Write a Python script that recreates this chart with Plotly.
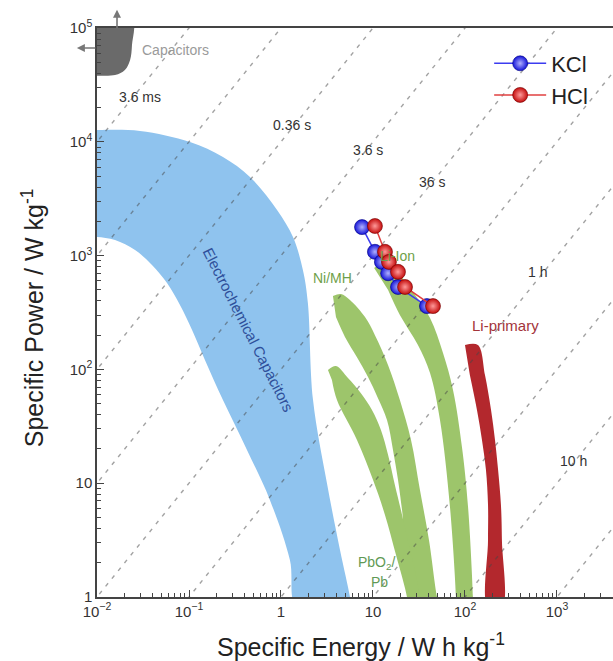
import numpy as np
import plotly.graph_objects as go

# ---------------- data ----------------
# constant-discharge-time reference lines (hours)
time_lines_h = [1e-7, 1e-6, 1e-5, 1e-4, 1e-3, 1e-2, 1e-1, 1, 10, 100, 1000, 10000]
line_energy_span = [1e-3, 1e5]

# measured points (Specific energy Wh/kg, specific power W/kg)
kcl_energy = [7.6, 10.5, 12.5, 14.6, 18.7, 38.6]
kcl_power = [1780, 1080, 880, 700, 530, 360]
hcl_energy = [10.5, 13.5, 14.9, 18.7, 22.3, 44.9]
hcl_power = [1820, 1080, 880, 720, 530, 360]

# technology regions (outline vertices, energy / power)
cap_energy = [0.008, 0.024, 0.024, 0.0229, 0.0201, 0.0157, 0.008]
cap_power = [1.2e5, 1.2e5, 71000, 52400, 42800, 38600, 38600]

ec_energy = [0.008, 0.01, 0.0293, 0.1026, 0.234, 0.46, 0.906, 1.35, 1.73, 1.96, 2.23, 3.16, 4.38, 5.62, 5.8,
             1.5, 1.25, 0.759, 0.427, 0.234, 0.149, 0.108, 0.0798, 0.0577, 0.0396, 0.0259, 0.0157, 0.01, 0.008]
ec_power = [12700, 12700, 12450, 9950, 7350, 4910, 2520, 1455, 747, 383, 53.8, 10.0, 2.59, 1.0, 0.8,
            0.8, 2.11, 7.1, 19.6, 53.8, 121, 222, 368, 574, 827, 1120, 1371, 1455, 1455]

nimh_energy = [3.67, 4.49, 5.62, 8.19, 10.5, 14.6, 19.6, 25.9, 32.4, 40.6, 49.7, 53.5,
               28.0, 20.7, 18.7, 16.5, 14.2, 11.3, 8.83, 6.70, 4.96, 3.96]
nimh_power = [442, 460, 407, 288, 200, 109, 53.8, 24.0, 8.71, 3.17, 1.0, 0.8,
              0.8, 5.81, 10.7, 19.6, 35.9, 56.1, 85.7, 128, 193, 288]

pb_energy = [3.24, 3.96, 5.35, 7.22, 9.75, 12.2, 14.6, 17.3, 20.7, 32.4, 32.4,
             24.0, 23.4, 17.8, 13.5, 10.0, 6.70, 4.06, 3.58]
pb_power = [98.9, 107, 84.0, 63.3, 44.0, 29.3, 17.7, 9.64, 5.26, 1.0, 0.8,
            0.8, 1.0, 2.34, 5.26, 10.7, 24.0, 53.8, 80.7]

liion_energy = [10.3, 13.5, 19.6, 27.2, 41.7, 57.7, 74.1, 92.7, 108, 122, 122,
                79.8, 79.8, 68.7, 53.5, 41.7, 30.8, 19.6, 14.6]
liion_power = [778, 879, 676, 479, 283, 139, 65.9, 20.8, 6.18, 1.0, 0.8,
               0.8, 1.0, 6.18, 35.9, 92.9, 164, 301, 499]

lip_energy = [100, 138, 165, 192, 212, 229, 246, 252, 252, 178, 178, 178, 169, 153, 135, 113]
lip_power = [164, 164, 89.3, 44.0, 24.0, 13.1, 6.43, 3.17, 0.8, 0.8, 3.17, 6.43, 13.1, 24.0, 44.0, 89.3]

x_tickvals = [0.01, 0.1, 1, 10, 100, 1000]
x_ticktext = ["10<sup>−2</sup>", "10<sup>−1</sup>", "1", "10", "10<sup>2</sup>", "10<sup>3</sup>"]
y_tickvals = [1, 10, 100, 1000, 10000, 100000]
y_ticktext = ["1", "10", "10<sup>2</sup>", "10<sup>3</sup>", "10<sup>4</sup>", "10<sup>5</sup>"]

# text labels: (text, energy, power)
time_labels = [("3.6 ms", 0.0293, 24800), ("0.36 s", 1.32, 14100), ("3.6 s", 8.83, 8470),
               ("36 s", 43.8, 4440), ("1 h", 621, 718), ("10 h", 1500, 15.8)]

FONT = "Liberation Sans, Arial, sans-serif"
BLUE_FILL = "#8fc3ee"
GREEN_FILL = "#9dc56b"
RED_FILL = "#b3282d"

fig = go.Figure()

def region(ex, py, color):
    fig.add_trace(go.Scatter(x=ex, y=py, mode="lines", fill="toself", fillcolor=color,
                             line=dict(width=0, color=color, shape="spline", smoothing=1.0),
                             hoverinfo="skip", showlegend=False))

region(cap_energy, cap_power, "#6a6a6a")
region(ec_energy, ec_power, BLUE_FILL)
region(nimh_energy, nimh_power, GREEN_FILL)
region(pb_energy, pb_power, GREEN_FILL)
region(liion_energy, liion_power, GREEN_FILL)
region(lip_energy, lip_power, RED_FILL)

# dashed iso-time lines
for t in time_lines_h:
    fig.add_trace(go.Scatter(x=line_energy_span, y=[e / t for e in line_energy_span], mode="lines",
                             line=dict(color="rgba(70,70,70,0.5)", width=1.4, dash="4px,6px"),
                             hoverinfo="skip", showlegend=False))

fig.add_trace(go.Scatter(x=kcl_energy, y=kcl_power, mode="lines+markers", name="KCl",
                         line=dict(color="#3c3cf0", width=1.5),
                         marker=dict(size=15, color="#1414d8",
                                     gradient=dict(type="radial", color="#b0b0ff"),
                                     line=dict(width=0.6, color="#000080"))))
fig.add_trace(go.Scatter(x=hcl_energy, y=hcl_power, mode="lines+markers", name="HCl",
                         line=dict(color="#e04040", width=1.5),
                         marker=dict(size=15, color="#c40c0c",
                                     gradient=dict(type="radial", color="#ff9a9a"),
                                     line=dict(width=0.6, color="#700000"))))

ann = []
def label(text, e, p, color, size=14, angle=0):
    ann.append(dict(x=np.log10(e), y=np.log10(p), xref="x", yref="y", text=text, showarrow=False,
                    font=dict(family=FONT, size=size, color=color), textangle=angle))

for txt, e, p in time_labels:
    label(txt, e, p, "#333333")
label("Capacitors", 0.0705, 64100, "#9a9a9a")
label("Ni/MH", 3.67, 635, "#6f9f4a")
label("Li-Ion", 18.7, 990, "#6f9f4a")
label("Li-primary", 279, 245, "#a3343a", size=15)
label("PbO<sub>2</sub>/", 11.0, 1.99, "#5f9a55")
label("Pb", 11.9, 1.36, "#5f9a55")
label("Electrochemical Capacitors", 0.438, 222, "#2e4f9a", size=15, angle=63)

# capacitor arrows
ann.append(dict(x=np.log10(0.0165), y=1.032, xref="x", yref="paper", ax=0, ay=20, text="",
                showarrow=True, arrowhead=2, arrowsize=1, arrowwidth=1.6, arrowcolor="#777777"))
ann.append(dict(x=-0.039, y=np.log10(66700), xref="paper", yref="y", ax=20, ay=0, text="",
                showarrow=True, arrowhead=2, arrowsize=1, arrowwidth=1.6, arrowcolor="#777777"))

# axis titles
ann.append(dict(x=0.512, y=-0.084, xref="paper", yref="paper", text="Specific Energy / W h kg<sup>-1</sup>",
                showarrow=False, font=dict(family=FONT, size=25, color="#222222"), yanchor="middle"))
ann.append(dict(x=-0.124, y=0.490, xref="paper", yref="paper", text="Specific Power / W kg<sup>-1</sup>",
                showarrow=False, font=dict(family=FONT, size=25, color="#222222"), textangle=-90,
                xanchor="center", yanchor="middle"))

minor_x = [m * 10.0 ** k for k in range(-2, 4) for m in range(2, 10)]
minor_y = [m * 10.0 ** k for k in range(0, 5) for m in range(2, 10)]

axis_common = dict(type="log", showgrid=False, zeroline=False, showline=True, linecolor="#444444",
                   linewidth=1.5, ticks="inside", ticklen=7, tickcolor="#444444", tickwidth=1,
                   tickfont=dict(family=FONT, size=15, color="#333333"))

fig.update_layout(
    width=613, height=661,
    margin=dict(l=97, r=0, t=28, b=64),
    paper_bgcolor="white", plot_bgcolor="white",
    xaxis=dict(range=[-2, 3.609], tickvals=x_tickvals, ticktext=x_ticktext, mirror=True,
               minor=dict(tickvals=minor_x, ticks="inside", ticklen=4, tickcolor="#444444", showgrid=False),
               **axis_common),
    yaxis=dict(range=[0, 5], tickvals=y_tickvals, ticktext=y_ticktext,
               minor=dict(tickvals=minor_y, ticks="inside", ticklen=4, tickcolor="#444444", showgrid=False),
               **axis_common),
    legend=dict(x=0.76, y=0.9745, xanchor="left", yanchor="top", bgcolor="rgba(0,0,0,0)",
                font=dict(family=FONT, size=22, color="#222222"), itemwidth=52, tracegroupgap=0),
    annotations=ann,
    showlegend=True,
)

fig.write_html("out.html")
